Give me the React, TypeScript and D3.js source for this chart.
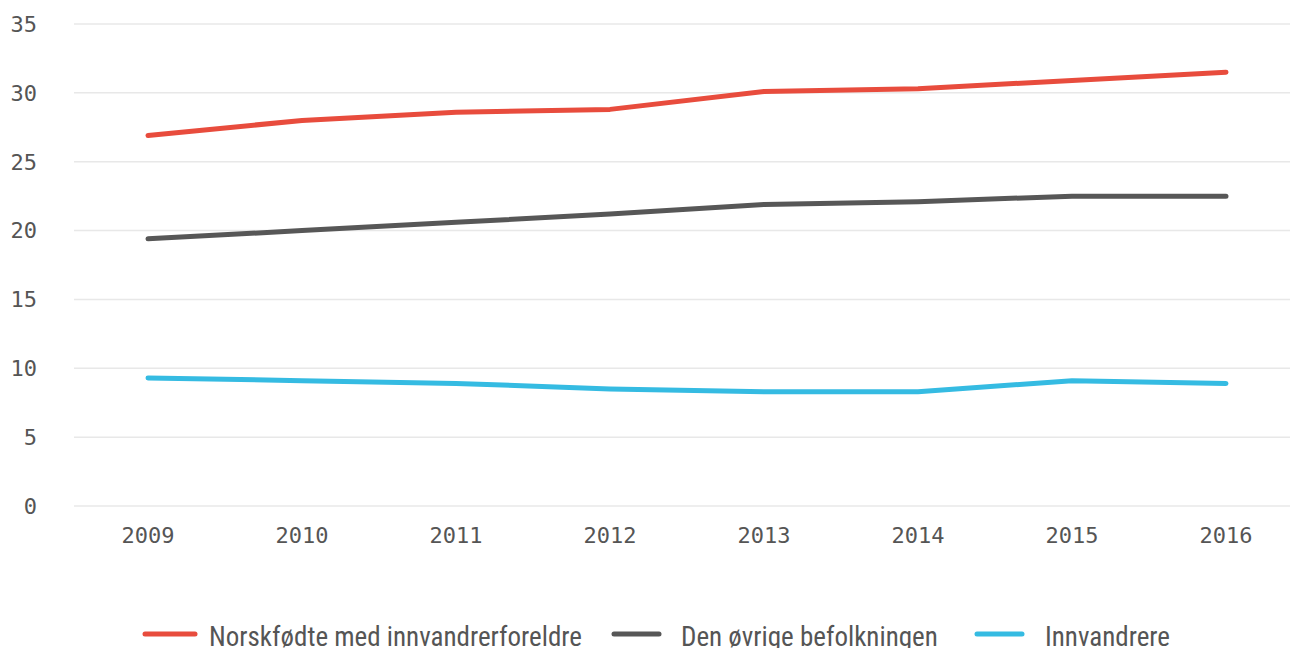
import React, { useEffect, useRef } from "react";
import * as d3 from "d3";

const YEARS = ["2009", "2010", "2011", "2012", "2013", "2014", "2015", "2016"];
const NORSKFODTE = [26.9, 28.0, 28.6, 28.8, 30.1, 30.3, 30.9, 31.5];
const OVRIGE = [19.4, 20.0, 20.6, 21.2, 21.9, 22.1, 22.5, 22.5];
const INNVANDRERE = [9.3, 9.1, 8.9, 8.5, 8.3, 8.3, 9.1, 8.9];
const Y_TICKS = [0, 5, 10, 15, 20, 25, 30, 35];

const SERIES = [
  { name: "Norskfødte med innvandrerforeldre", values: NORSKFODTE, color: "#e84c3d" },
  { name: "Den øvrige befolkningen", values: OVRIGE, color: "#575757" },
  { name: "Innvandrere", values: INNVANDRERE, color: "#35bbe2" },
];

const W = 1290;
const H = 648;

export default function App() {
  const ref = useRef<SVGSVGElement | null>(null);

  useEffect(() => {
    const svg = d3.select(ref.current);
    svg.selectAll("*").remove();

    const x = d3.scalePoint<string>().domain(YEARS).range([148, 1226]);
    const y = d3.scaleLinear().domain([0, 35]).range([506, 24]);
    const mono = "DejaVu Sans Mono, monospace";

    // grid + y labels
    const grid = svg.append("g");
    grid.selectAll("line")
      .data(Y_TICKS)
      .enter()
      .append("line")
      .attr("x1", 74)
      .attr("x2", W)
      .attr("y1", (d) => y(d))
      .attr("y2", (d) => y(d))
      .attr("stroke", "#e8e8e8")
      .attr("stroke-width", 1.5);
    grid.selectAll("text")
      .data(Y_TICKS)
      .enter()
      .append("text")
      .attr("x", 37)
      .attr("y", (d) => y(d))
      .attr("dy", "0.36em")
      .attr("text-anchor", "end")
      .attr("font-family", mono)
      .attr("font-size", 22)
      .attr("fill", "#555")
      .text((d) => String(d));

    // x labels
    svg.append("g").selectAll("text")
      .data(YEARS)
      .enter()
      .append("text")
      .attr("x", (d) => x(d) as number)
      .attr("y", 543)
      .attr("text-anchor", "middle")
      .attr("font-family", mono)
      .attr("font-size", 22)
      .attr("fill", "#555")
      .text((d) => d);

    const line = d3.line<number>()
      .x((_, i) => x(YEARS[i]) as number)
      .y((d) => y(d));

    svg.append("g").selectAll("path")
      .data(SERIES)
      .enter()
      .append("path")
      .attr("fill", "none")
      .attr("stroke", (d) => d.color)
      .attr("stroke-width", 5)
      .attr("stroke-linecap", "round")
      .attr("stroke-linejoin", "round")
      .attr("d", (d) => line(d.values));

    // legend
    const legendX = [143, 612, 975];
    const lg = svg.append("g");
    SERIES.forEach((s, i) => {
      const g = lg.append("g").attr("transform", `translate(${legendX[i]},634)`);
      g.append("line")
        .attr("x1", 2)
        .attr("x2", i === 0 ? 52 : 47)
        .attr("stroke", s.color)
        .attr("stroke-width", 5)
        .attr("stroke-linecap", "round");
      g.append("text")
        .attr("x", i === 0 ? 66 : i === 1 ? 69 : 70)
        .attr("y", 12)
        .attr("font-family", "Liberation Sans Narrow, Roboto Condensed, Roboto, sans-serif")
        .attr("font-stretch", "condensed")
        .attr("font-size", 27)
        .attr("fill", "#555")
        .text(s.name);
    });
  }, []);

  return (
    <svg
      ref={ref}
      width={W}
      height={H}
      style={{ position: "fixed", top: 0, left: 0, background: "#fff", display: "block" }}
    />
  );
}
